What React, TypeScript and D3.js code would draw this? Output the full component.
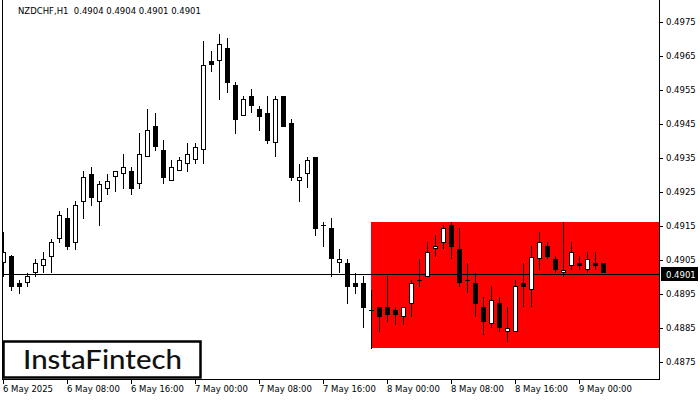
import React from "react";
import * as d3 from "d3";

const opens = [0.4904,0.49062,0.48982,0.48981,0.49011,0.49031,0.4906,0.49111,0.49173,0.49101,0.49222,0.49302,0.49222,0.4926,0.49293,0.49302,0.49311,0.49273,0.49352,0.49443,0.49373,0.49281,0.49311,0.49332,0.49343,0.49373,0.49634,0.49634,0.49673,0.49564,0.49473,0.49531,0.49493,0.49481,0.49393,0.49531,0.49452,0.49281,0.49302,0.49353,0.49152,0.49143,0.4904,0.4904,0.48981,0.48981,0.48902,0.48911,0.48911,0.48903,0.48881,0.48921,0.48991,0.49001,0.49082,0.49101,0.49152,0.49082,0.48991,0.48981,0.48911,0.48861,0.48923,0.48839,0.48839,0.48981,0.48961,0.49052,0.4909,0.49052,0.49011,0.49031,0.4904,0.49022,0.4904,0.4904];
const highs = [0.49132,0.49064,0.48991,0.49011,0.49053,0.49073,0.49112,0.49193,0.49202,0.49223,0.49312,0.49324,0.49282,0.49303,0.49313,0.49361,0.49324,0.49423,0.49493,0.49481,0.49403,0.49344,0.49353,0.49393,0.49393,0.49694,0.49664,0.49715,0.49703,0.49574,0.49532,0.49553,0.49503,0.49532,0.49532,0.49532,0.49465,0.49332,0.49353,0.49353,0.49162,0.49173,0.49082,0.49052,0.49011,0.49002,0.48962,0.48911,0.49002,0.48911,0.48911,0.48991,0.49052,0.49103,0.49123,0.49153,0.49162,0.49143,0.4904,0.49011,0.4894,0.48974,0.4894,0.48911,0.48991,0.4904,0.4909,0.49132,0.49102,0.49062,0.49162,0.49102,0.49062,0.49073,0.49073,0.4904];
const lows = [0.49001,0.4896,0.4895,0.48972,0.49001,0.49011,0.49011,0.49101,0.4908,0.4908,0.49171,0.4921,0.49151,0.49242,0.49251,0.4926,0.49242,0.4926,0.49352,0.49372,0.49273,0.49281,0.49311,0.4931,0.49332,0.49332,0.49602,0.49522,0.49542,0.49422,0.49473,0.49481,0.4943,0.49391,0.49352,0.49442,0.49281,0.49222,0.49261,0.49122,0.49089,0.49001,0.49011,0.48921,0.4895,0.48851,0.48789,0.48839,0.48869,0.4886,0.4886,0.48881,0.48972,0.49001,0.4906,0.49082,0.49052,0.48972,0.48952,0.48881,0.4883,0.48851,0.48839,0.4881,0.48839,0.48911,0.48911,0.49022,0.49052,0.49011,0.49001,0.49022,0.49022,0.49011,0.49022,0.49011];
const closes = [0.49073,0.48972,0.48972,0.49002,0.4904,0.49053,0.49102,0.49181,0.49089,0.49211,0.49293,0.49231,0.49273,0.49281,0.49311,0.49323,0.4926,0.49361,0.49432,0.49381,0.49292,0.49323,0.49343,0.49361,0.49381,0.49623,0.49623,0.49684,0.49572,0.49463,0.49523,0.49502,0.49472,0.49401,0.49523,0.49442,0.49292,0.49293,0.49343,0.49142,0.49152,0.49052,0.49052,0.48972,0.48972,0.4891,0.48902,0.48881,0.48889,0.48889,0.48911,0.48981,0.48991,0.49073,0.4909,0.49143,0.49089,0.48981,0.48991,0.48921,0.48869,0.48931,0.48851,0.48851,0.48974,0.48972,0.4906,0.49102,0.4906,0.49022,0.49022,0.49073,0.49031,0.49052,0.49031,0.49011];

const yTicks = [0.4975,0.4965,0.4955,0.4945,0.4935,0.4925,0.4915,0.4905,0.4895,0.4885,0.4875];
const xTickIndex = [0,8,16,24,32,40,48,56,64,72];
const xTickLabels = ["6 May 2025","6 May 08:00","6 May 16:00","7 May 00:00","7 May 08:00","7 May 16:00","8 May 00:00","8 May 08:00","8 May 16:00","9 May 00:00"];
const title = "NZDCHF,H1  0.4904 0.4904 0.4901 0.4901";
const currentPrice = 0.4901;
const zoneStart = 46;
const zoneHigh = 0.49162;
const zoneLow = 0.48791;

const W = 700, H = 400;
const plotLeft = 3, plotRight = 659, plotBottom = 379;
const font = "DejaVu Sans";

export default function App() {
  const x = d3.scaleLinear().domain([0, 75]).range([3, 603]);
  const y = d3.scaleLinear().domain([0.4875, 0.4975]).range([362, 22]);
  const py = (v: number) => Math.round(y(v));
  const cy = Math.round(y(currentPrice)) + 0.5;

  return (
    <svg width={W} height={H} style={{ position: "absolute", left: 0, top: 0, background: "#fff" }}>
      <defs>
        <clipPath id="plot">
          <rect x={plotLeft} y={0} width={plotRight - plotLeft} height={plotBottom} />
        </clipPath>
      </defs>
      <rect x={0} y={0} width={W} height={H} fill="#fff" />
      {/* zone */}
      <rect x={x(zoneStart)} y={py(zoneHigh)} width={plotRight - x(zoneStart)} height={py(zoneLow) - py(zoneHigh)} fill="#ff0000" />
      {/* current price line */}
      <line x1={plotLeft} x2={plotRight} y1={cy} y2={cy} stroke="#000" strokeWidth={1} />
      <g clipPath="url(#plot)">
        {opens.map((o, i) => {
          const cx = Math.round(x(i));
          const c = closes[i];
          const hi = py(highs[i]);
          const lo = py(lows[i]);
          const top = py(Math.max(o, c));
          const bot = py(Math.min(o, c));
          const bull = c > o;
          const doji = Math.abs(c - o) < 0.00002;
          return (
            <g key={i}>
              <rect x={cx} y={hi} width={1} height={Math.max(1, lo - hi)} fill="#000" />
              {doji ? (
                <rect x={cx - 2} y={top} width={5} height={1} fill="#000" />
              ) : bull ? (
                <rect x={cx - 1.5} y={top + 0.5} width={4} height={Math.max(1, bot - top - 1)} fill="#fff" stroke="#000" strokeWidth={1} />
              ) : (
                <rect x={cx - 2} y={top} width={5} height={Math.max(1, bot - top)} fill="#000" />
              )}
            </g>
          );
        })}
      </g>
      {/* frame */}
      <line x1={2.5} x2={2.5} y1={0} y2={plotBottom + 0.5} stroke="#000" />
      <line x1={2} x2={plotRight + 1} y1={plotBottom + 0.5} y2={plotBottom + 0.5} stroke="#000" />
      <line x1={plotRight + 0.5} x2={plotRight + 0.5} y1={0} y2={plotBottom + 1} stroke="#000" />
      {/* y axis */}
      {yTicks.map((t) => (
        <g key={t}>
          <line x1={plotRight + 1} x2={plotRight + 4} y1={py(t) + 0.5} y2={py(t) + 0.5} stroke="#000" />
          <text x={666} y={py(t) + 3} fontFamily={font} fontSize={8.5} fill="#000">{t.toFixed(4)}</text>
        </g>
      ))}
      <rect x={661} y={cy - 7.5} width={37} height={14} fill="#000" />
      <text x={666} y={cy + 3} fontFamily={font} fontSize={8.5} fill="#fff">{currentPrice.toFixed(4)}</text>
      {/* x axis */}
      {xTickIndex.map((k, i) => (
        <g key={k}>
          <line x1={Math.round(x(k)) + 0.5} x2={Math.round(x(k)) + 0.5} y1={plotBottom} y2={plotBottom + 5} stroke="#000" />
          <text x={Math.round(x(k)) + (i === 0 ? 0 : 0)} y={392} fontFamily={font} fontSize={8.5} fill="#000">{xTickLabels[i]}</text>
        </g>
      ))}
      {/* title */}
      <text x={18} y={14} fontFamily={font} fontSize={8.5} fill="#000" style={{ whiteSpace: "pre" }}>{title}</text>
      {/* logo */}
      <rect x={3.5} y={341.5} width={197} height={36} fill="#fff" stroke="#000" strokeWidth={2.5} />
      <text x={23} y={369} fontFamily="Lato" fontWeight={500} fontSize={26} textLength={159} lengthAdjust="spacingAndGlyphs" fill="#111">InstaFintech</text>
    </svg>
  );
}
